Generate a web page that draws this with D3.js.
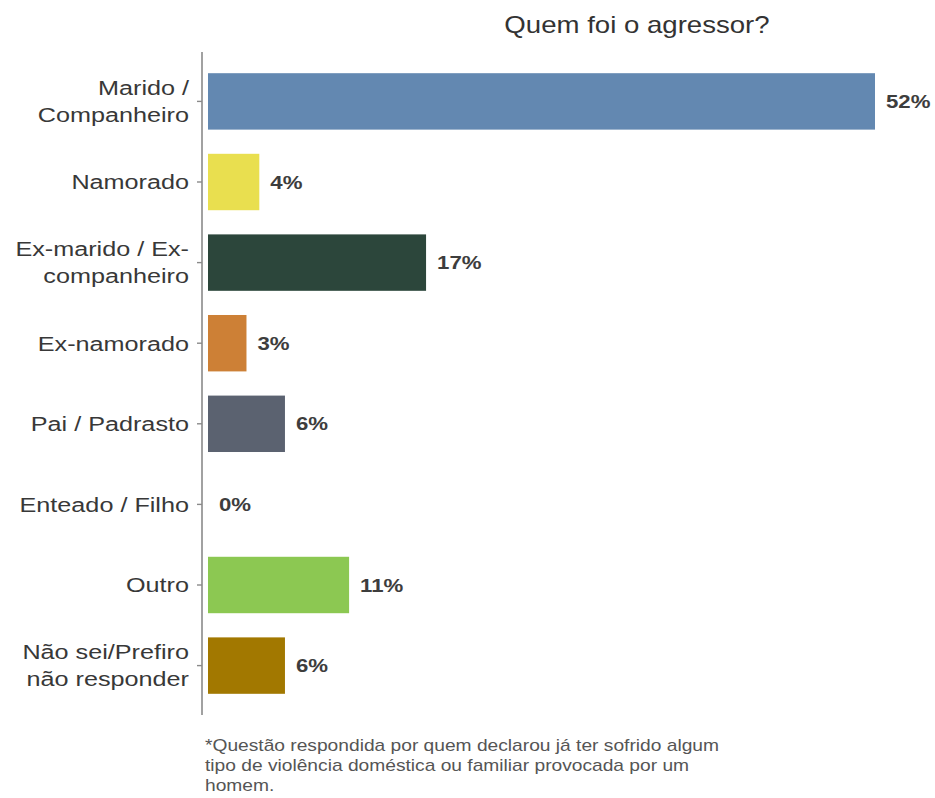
<!DOCTYPE html>
<meta charset="utf-8">
<style>
  body { margin: 0; background: #fff; }
  text { font-family: "Liberation Sans", Arial, sans-serif; }
  .cat { font-size: 21px; fill: #383838; }
  .val { font-size: 18.5px; font-weight: bold; fill: #3d3d3d; }
  .note { font-size: 16px; fill: #555; }
</style>
<body>
<div id="chart"></div>
<script src="https://d3js.org/d3.v7.min.js"></script>
<script>
var categories = [
  ["Marido /", "Companheiro"],
  ["Namorado"],
  ["Ex-marido / Ex-", "companheiro"],
  ["Ex-namorado"],
  ["Pai / Padrasto"],
  ["Enteado / Filho"],
  ["Outro"],
  ["Não sei/Prefiro", "não responder"]
];
var values = [52, 4, 17, 3, 6, 0, 11, 6];
var colors = ["#6388b1", "#e9df4f", "#2c463b", "#cd8036", "#5b6270", "#7f7f7f", "#8cc852", "#a27800"];
var title = "Quem foi o agressor?";
var note = [
  "*Questão respondida por quem declarou já ter sofrido algum",
  "tipo de violência doméstica ou familiar provocada por um",
  "homem."
];

var width = 935, height = 798;
var sx = 1.2; // the original text is drawn a bit wide

var svg = d3.select("#chart").append("svg")
    .attr("width", width)
    .attr("height", height);

var ids = d3.range(values.length);

var x = d3.scaleLinear().domain([0, 52]).range([208, 875]);
var y = d3.scaleBand().domain(ids).range([52, 715])
    .paddingInner(0.3).paddingOuter(0.263);

function wideText(parent, px, py) {
  return parent.append("g")
      .attr("transform", "translate(" + px + "," + py + ") scale(" + sx + ",1)")
    .append("text");
}

// title
wideText(svg, 637, 33)
    .attr("text-anchor", "middle")
    .style("font-size", "23px").style("fill", "#333")
    .text(title);

// bars
svg.append("g").selectAll("rect")
    .data(ids)
  .enter().append("rect")
    .attr("x", x(0))
    .attr("y", function(i) { return y(i); })
    .attr("width", function(i) { return x(values[i]) - x(0); })
    .attr("height", y.bandwidth())
    .style("fill", function(i) { return colors[i]; });

// value labels
var vals = svg.append("g");
ids.forEach(function(i) {
  wideText(vals, x(values[i]) + 11, y(i) + y.bandwidth() / 2)
      .attr("class", "val")
      .attr("dy", "0.36em")
      .text(values[i] + "%");
});

// axis line + ticks
var axisX = 202;
svg.append("line")
    .attr("x1", axisX).attr("x2", axisX)
    .attr("y1", y.range()[0]).attr("y2", y.range()[1])
    .style("stroke", "#8a8a8a").style("stroke-width", 1.6);

svg.append("g").selectAll("line")
    .data(ids)
  .enter().append("line")
    .attr("x1", axisX - 5).attr("x2", axisX)
    .attr("y1", function(i) { return y(i) + y.bandwidth() / 2; })
    .attr("y2", function(i) { return y(i) + y.bandwidth() / 2; })
    .style("stroke", "#8a8a8a").style("stroke-width", 1.4);

// category labels
var cats = svg.append("g");
var lh = 1.29;
ids.forEach(function(i) {
  var lines = categories[i];
  var t = wideText(cats, 189, y(i) + y.bandwidth() / 2)
      .attr("class", "cat")
      .attr("text-anchor", "end");
  lines.forEach(function(l, k) {
    t.append("tspan")
      .attr("x", 0)
      .attr("dy", k === 0 ? (0.35 - (lines.length - 1) * lh / 2) + "em" : lh + "em")
      .text(l);
  });
});

// footnote
var notes = svg.append("g");
note.forEach(function(d, k) {
  wideText(notes, 205, 751 + k * 20)
      .attr("class", "note")
      .text(d);
});
</script>
</body>
</html>
